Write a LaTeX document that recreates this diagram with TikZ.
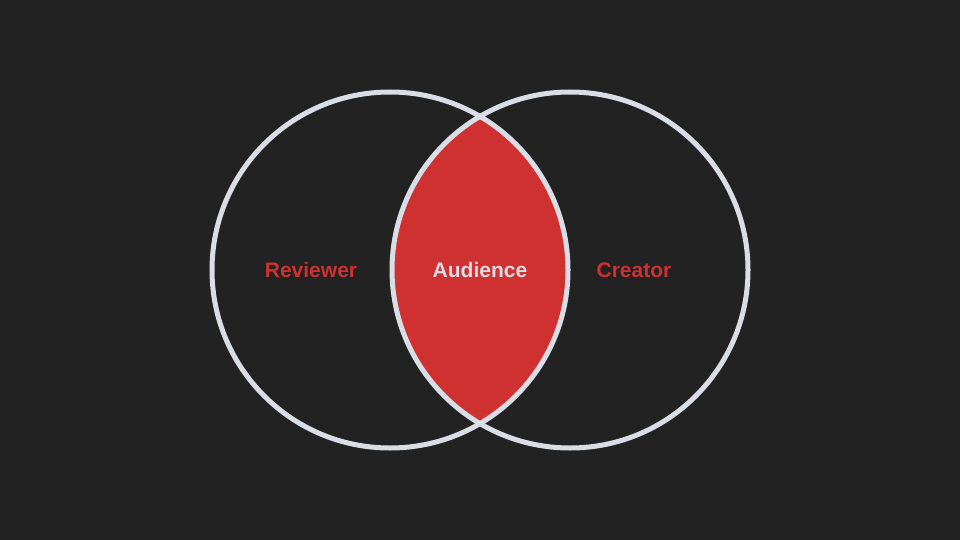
\documentclass[tikz,border=0pt]{standalone}
\usepackage{fontspec}
\setmainfont{Liberation Sans}
\definecolor{bg}{HTML}{222222}
\definecolor{ring}{HTML}{D8DDE6}
\definecolor{accent}{HTML}{CF3030}
\begin{document}
\begin{tikzpicture}[x=1pt,y=-1pt,
  ringline/.style={draw=ring,line width=5pt},
  lbl/.style={font=\bfseries\fontsize{21}{24}\selectfont}]
\fill[bg] (0,0) rectangle (960,540);
\useasboundingbox (0,0) rectangle (960,540);
\begin{scope}
\clip (390,270) circle (178);
\fill[accent] (570,270) circle (178);
\end{scope}
\draw[ringline] (390,270) circle (178);
\draw[ringline] (570,270) circle (178);
\node[lbl,text=accent] (rev) at (311,270) {Reviewer};
\node[lbl,text=ring] (aud) at (480,270) {Audience};
\node[lbl,text=accent] (cre) at (634,270) {Creator};
\end{tikzpicture}
\end{document}
